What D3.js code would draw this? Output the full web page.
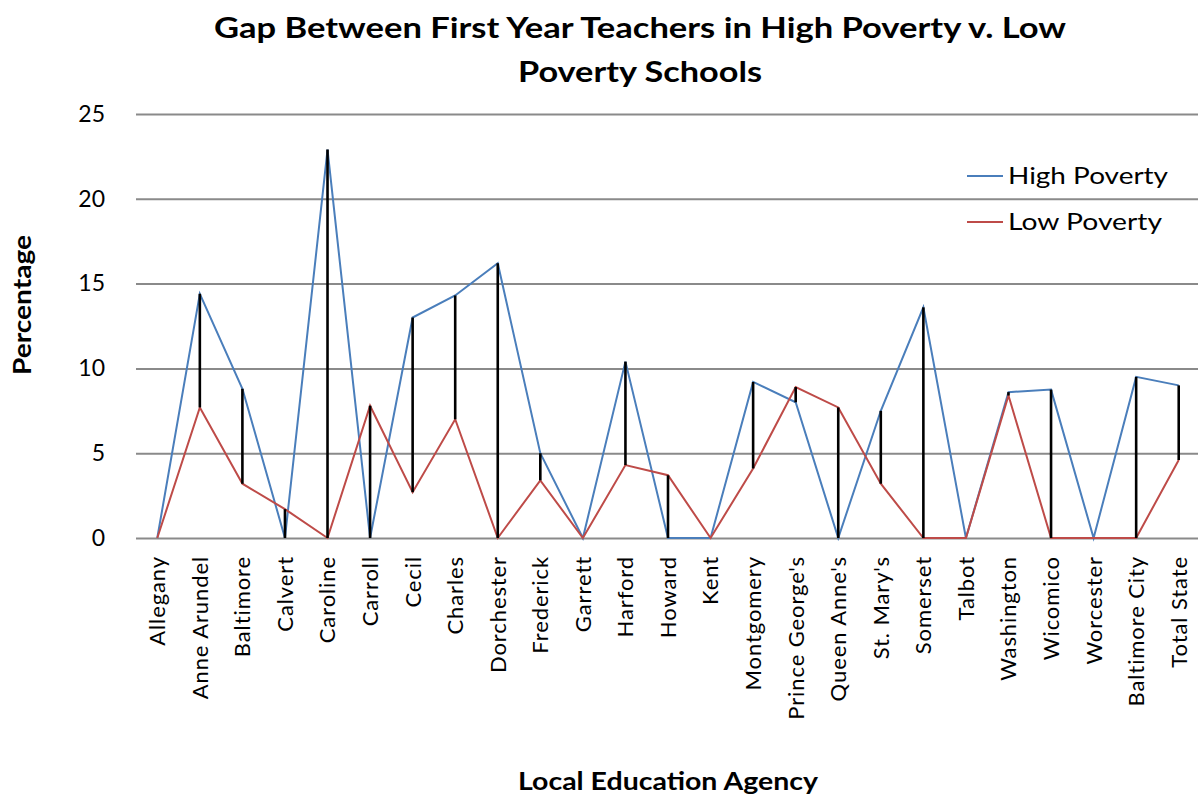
<!DOCTYPE html>
<html>
<head>
<meta charset="utf-8">
<script src="https://cdn.jsdelivr.net/npm/d3@7"></script>
<style>
  html, body { margin: 0; padding: 0; background: #fff; }
  svg { display: block; }
  text { font-family: Lato, "Open Sans", "Liberation Sans", sans-serif; fill: #000; }
</style>
</head>
<body>
<svg id="chart" width="1198" height="798"></svg>
<script>
// Local education agencies (x categories)
const agencies = ["Allegany", "Anne Arundel", "Baltimore", "Calvert", "Caroline", "Carroll",
  "Cecil", "Charles", "Dorchester", "Frederick", "Garrett", "Harford", "Howard", "Kent",
  "Montgomery", "Prince George's", "Queen Anne's", "St. Mary's", "Somerset", "Talbot",
  "Washington", "Wicomico", "Worcester", "Baltimore City", "Total State"];

// Percentage of first year teachers, high poverty schools
const highPoverty = [0, 14.4, 8.8, 0, 22.9, 0, 13.0, 14.3, 16.2, 5.0, 0, 10.4, 0, 0,
  9.2, 8.0, 0, 7.5, 13.6, 0, 8.6, 8.75, 0, 9.5, 9.0];

// Percentage of first year teachers, low poverty schools
const lowPoverty = [0, 7.7, 3.2, 1.7, 0, 7.8, 2.7, 7.0, 0, 3.4, 0, 4.3, 3.7, 0,
  4.1, 8.9, 7.7, 3.2, 0, 0, 8.4, 0, 0, 0, 4.6];

const yTicks = [0, 5, 10, 15, 20, 25];

const series = [
  { name: "High Poverty", values: highPoverty, color: "#4A7EBB", width: 160 },
  { name: "Low Poverty", values: lowPoverty, color: "#BE4B48", width: 154 }
];

const svg = d3.select("#chart");
const plot = { left: 136, right: 1200, top: 114, bottom: 538 };

const x = d3.scaleBand().domain(agencies).range([plot.left, plot.right]);
const y = d3.scaleLinear().domain([0, 25]).range([plot.bottom, plot.top]);
const cx = d => x(d) + x.bandwidth() / 2;

// Horizontal gridlines and y tick labels
const yAxis = d3.axisLeft(y).tickValues(yTicks).tickSize(-(plot.right - plot.left)).tickPadding(31);
const gy = svg.append("g").attr("transform", `translate(${plot.left},0)`).call(yAxis);
gy.select(".domain").remove();
gy.selectAll(".tick line").attr("stroke", "#8a8a8a").attr("stroke-width", 2);
gy.selectAll(".tick text").attr("font-size", 23).attr("fill", "#000")
  .style("font-family", "Lato, 'Open Sans', sans-serif");

// Category labels, rotated
const xAxis = d3.axisBottom(x).tickSize(0).tickPadding(0);
const gx = svg.append("g").attr("transform", `translate(0,${plot.bottom})`).call(xAxis);
gx.select(".domain").remove();
gx.selectAll(".tick text")
  .attr("font-size", 22)
  .attr("fill", "#000")
  .attr("letter-spacing", 0.9)
  .attr("transform", "rotate(-90)")
  .attr("text-anchor", "end")
  .attr("x", -18)
  .attr("y", 0)
  .attr("dy", "0.36em")
  .style("font-family", "Lato, 'Open Sans', sans-serif");

// Series lines
const line = d3.line().x((d, i) => cx(agencies[i])).y(d => y(d));
series.forEach(s => {
  svg.append("path")
    .datum(s.values)
    .attr("fill", "none")
    .attr("stroke", s.color)
    .attr("stroke-width", 2)
    .attr("stroke-linejoin", "miter")
    .attr("d", line);
});

// High-low lines joining the two series at each agency
svg.append("g").selectAll("line")
  .data(agencies)
  .join("line")
  .attr("x1", d => cx(d)).attr("x2", d => cx(d))
  .attr("y1", (d, i) => y(Math.max(highPoverty[i], lowPoverty[i])))
  .attr("y2", (d, i) => y(Math.min(highPoverty[i], lowPoverty[i])))
  .attr("stroke", "#000")
  .attr("stroke-width", 2.6);

// Legend
const legend = svg.append("g");
series.forEach((s, i) => {
  const ly = 176 + i * 46;
  legend.append("line")
    .attr("x1", 967).attr("x2", 1003).attr("y1", ly).attr("y2", ly)
    .attr("stroke", s.color).attr("stroke-width", 2);
  legend.append("text")
    .attr("x", 1008).attr("y", ly).attr("dy", "0.35em")
    .attr("font-size", 24)
    .attr("textLength", s.width).attr("lengthAdjust", "spacingAndGlyphs")
    .text(s.name);
});

// Title
const title = svg.append("g").attr("font-weight", "bold").attr("font-size", 29).attr("text-anchor", "middle");
title.append("text").attr("x", 640).attr("y", 38)
  .attr("textLength", 852).attr("lengthAdjust", "spacingAndGlyphs")
  .text("Gap Between First Year Teachers in High Poverty v. Low");
title.append("text").attr("x", 640).attr("y", 82)
  .attr("textLength", 244).attr("lengthAdjust", "spacingAndGlyphs")
  .text("Poverty Schools");

// Axis titles
svg.append("text")
  .attr("transform", "translate(31,305) rotate(-90)")
  .attr("text-anchor", "middle").attr("font-weight", "bold").attr("font-size", 24)
  .attr("textLength", 140).attr("lengthAdjust", "spacingAndGlyphs")
  .text("Percentage");

svg.append("text")
  .attr("x", 668).attr("y", 790)
  .attr("text-anchor", "middle").attr("font-weight", "bold").attr("font-size", 24)
  .attr("textLength", 300).attr("lengthAdjust", "spacingAndGlyphs")
  .text("Local Education Agency");
</script>
</body>
</html>
